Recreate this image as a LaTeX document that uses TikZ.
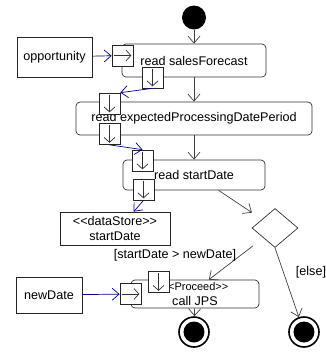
\documentclass[tikz,border=0pt]{standalone}
\usepackage{fontspec}
\setmainfont{Liberation Sans}
\usetikzlibrary{arrows.meta,shapes.geometric}

\newcommand{\umlstereo}[1]{<\kern0pt<#1>\kern0pt>}

\begin{document}
\begin{tikzpicture}[x=1pt,y=-1pt,font=\fontsize{12.6}{15}\selectfont,line width=0.7pt,
	action node/.style={draw=black!80,rounded corners=4pt,inner sep=0pt,align=center},
	object node/.style={draw=black!85,inner sep=0pt,align=center},
	pin node/.style={draw=black!85,fill=white,minimum size=21pt,inner sep=0pt},
	control flow/.style={draw=black!75,-{Straight Barb[length=7pt,width=12pt]}},
	object flow/.style={draw=blue!60!black,-{Straight Barb[length=7pt,width=12pt]}},
	pin arrow/.style={draw=black!80,shorten <=2pt,shorten >=2pt,-{Straight Barb[length=5pt,width=11pt]}},
	guard/.style={inner sep=1pt}
]

	\useasboundingbox (0,0) rectangle (326,360);

	% start and ends
	\node[circle,fill=black,minimum size=24pt,inner sep=0pt] (start) at (194,17.5) {};
	\foreach \n/\x in {end1/194,end2/304} {
		\node[circle,draw=black,line width=1.6pt,minimum size=30pt,inner sep=0pt] (\n) at (\x,332) {};
		\fill (\n) circle (10.5pt);
	}

	% actions
	\node[action node,minimum width=144pt,minimum height=33pt] (act1) at (194,60.5) {read salesForecast};
	\node[action node,minimum width=236pt,minimum height=33pt] (act2) at (194,118.5) {read expectedProcessingDatePeriod};
	\node[action node,minimum width=142pt,minimum height=30pt] (act3) at (194,175) {read startDate};
	\node[action node,minimum width=128pt,minimum height=28pt] (act4) at (195,294)
		{{\fontsize{11}{13}\selectfont\umlstereo{Proceed}}\\call JPS};
	\node[diamond,draw=black!80,minimum width=46pt,minimum height=39pt,inner sep=0pt] (dec) at (275,228) {};

	% objects
	\node[object node,minimum width=75pt,minimum height=40pt] (opp) at (54.5,57) {opportunity};
	\node[object node,minimum width=110pt,minimum height=33pt] (ds) at (115,228.5) {\umlstereo{dataStore}\\startDate};
	\node[object node,minimum width=66pt,minimum height=36pt] (nd) at (49,295) {newDate};

	% pins
	\node[pin node] (p1in) at (122.5,55.5) {};
	\node[pin node] (p1out) at (152.5,77.5) {};
	\node[pin node] (p2in) at (109.5,103.5) {};
	\node[pin node] (p2out) at (109.5,134) {};
	\node[pin node] (p3in) at (142.5,160.5) {};
	\node[pin node] (p3out) at (143.5,189.5) {};
	\node[pin node] (p4top) at (158.5,282) {};
	\node[pin node] (p4left) at (130.5,294) {};

	\foreach \p in {p1in,p4left}
		\draw[pin arrow] (\p.west) -- (\p.east);
	\foreach \p in {p1out,p2in,p2out,p3in,p3out,p4top}
		\draw[pin arrow] (\p.north) -- (\p.south);

	% control flow
	\draw[control flow] (start) -- (act1);
	\draw[control flow] (act1) -- (act2);
	\draw[control flow] (act2) -- (act3);
	\draw[control flow,shorten >=12pt] (act3.-32) -- (dec);
	\draw[control flow,shorten <=13pt] (dec.south west) -- (act4.46);
	\draw[control flow] (dec.south) -- (end2);
	\draw[control flow] (act4) -- (end1);

	% object flow
	\draw[object flow] (opp) -- (p1in);
	\draw[object flow] (p1out.south) -- (p2in.north east);
	\draw[object flow] (p2out.south) -- (p3in.north);
	\draw[object flow] (p3out.south) -- (ds.42);
	\draw[object flow] (nd) -- (p4left);

	% guards
	\node[guard] (g1) at (175,255) {[startDate > newDate]};
	\node[guard] (g2) at (311,272) {[else]};
\end{tikzpicture}
\end{document}
